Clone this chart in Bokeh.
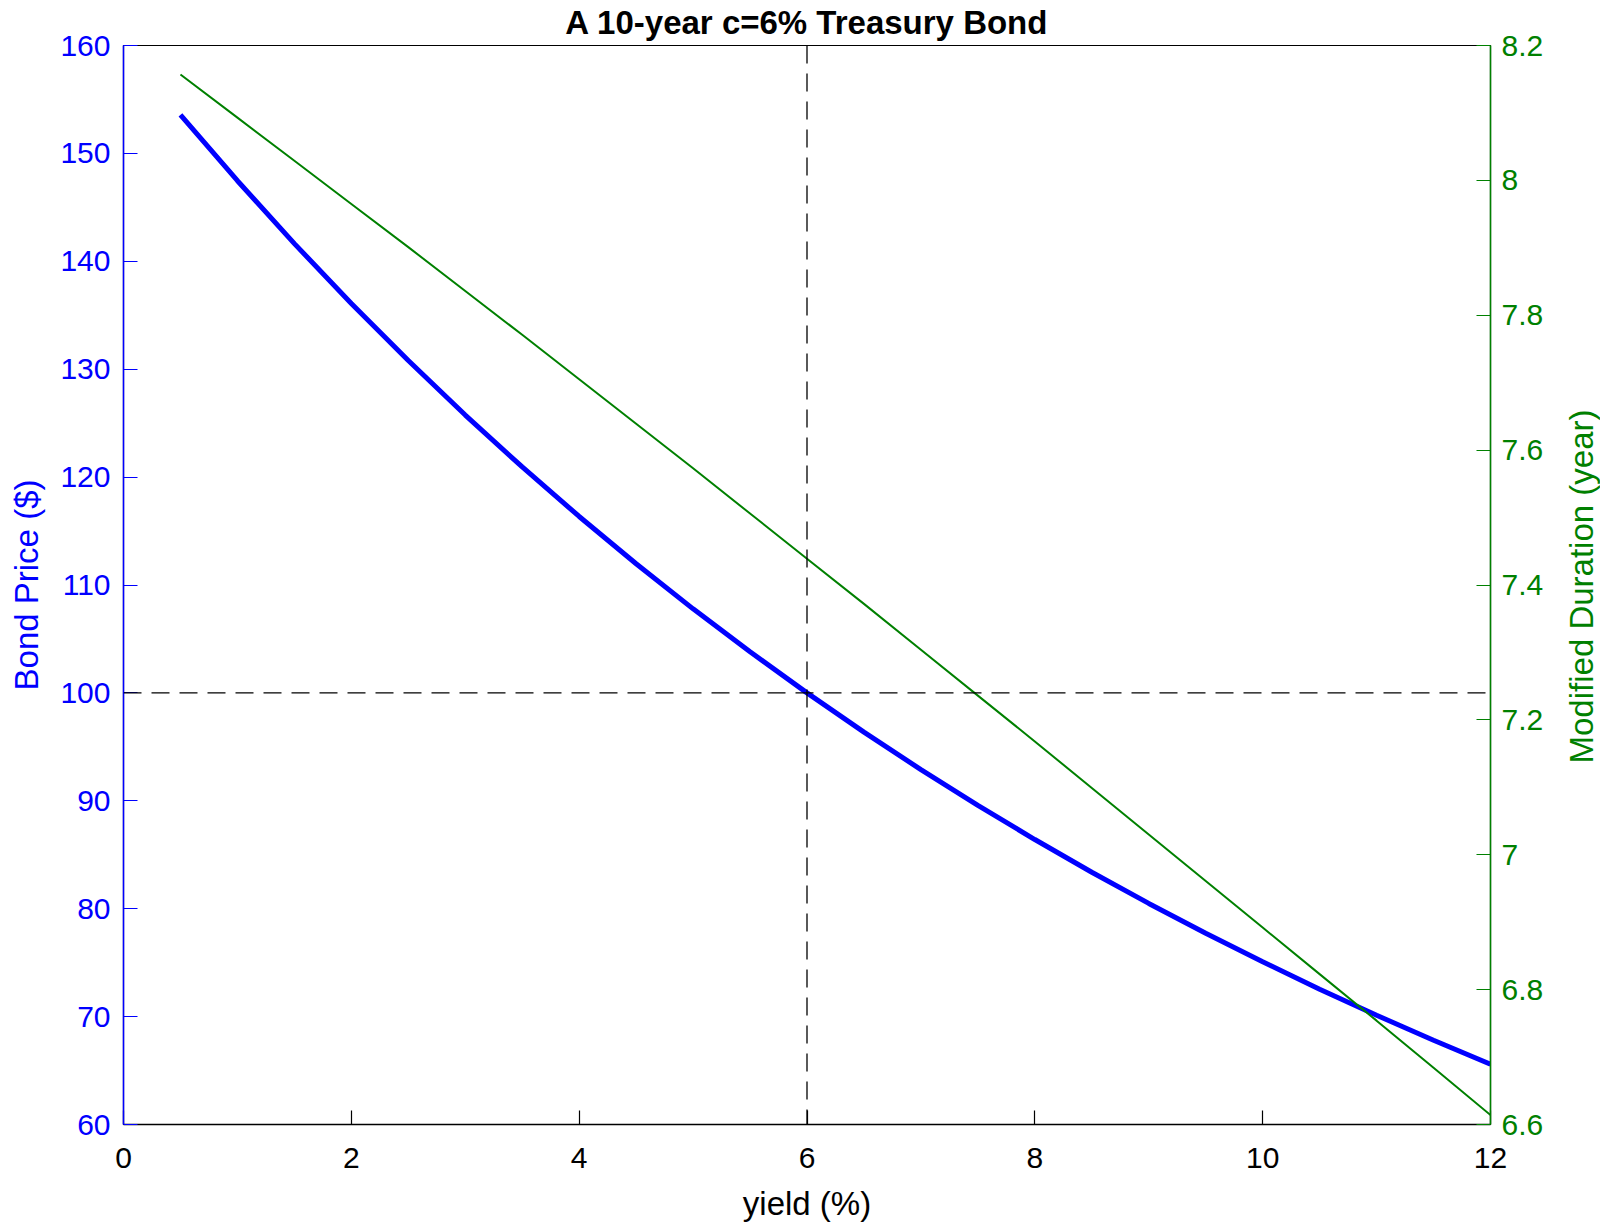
from bokeh.plotting import figure
from bokeh.layouts import row
from bokeh.models import Range1d, LinearAxis, FixedTicker, Span, Label
from bokeh.embed import file_html
from bokeh.resources import INLINE

# ---- data ----
yield_pct = [0.5, 1.0, 1.5, 2.0, 2.5, 3.0, 3.5, 4.0, 4.5, 5.0, 5.5, 6.0,
             6.5, 7.0, 7.5, 8.0, 8.5, 9.0, 9.5, 10.0, 10.5, 11.0, 11.5, 12.0]
bond_price = [153.58, 147.47, 141.64, 136.09, 130.80, 125.75, 120.94, 116.35,
              111.97, 107.79, 103.81, 100.00, 96.37, 92.89, 89.58, 86.41,
              83.38, 80.49, 77.72, 75.08, 72.54, 70.12, 67.81, 65.59]
mod_duration = [8.157, 8.093, 8.029, 7.965, 7.901, 7.836, 7.771, 7.705,
                7.639, 7.573, 7.506, 7.439, 7.372, 7.304, 7.236, 7.168,
                7.099, 7.030, 6.961, 6.892, 6.823, 6.754, 6.684, 6.614]
par_yield = 6
par_price = 100

x_ticks = [0, 2, 4, 6, 8, 10, 12]
price_ticks = [60, 70, 80, 90, 100, 110, 120, 130, 140, 150, 160]
dur_ticks = [6.6, 6.8, 7.0, 7.2, 7.4, 7.6, 7.8, 8.0, 8.2]
dur_tick_labels = ["6.6", "6.8", "7", "7.2", "7.4", "7.6", "7.8", "8", "8.2"]

title_text = "A 10-year c=6% Treasury Bond"
x_label = "yield (%)"
left_label = "Bond Price ($)"
right_label = "Modified Duration (year)"

BLUE = "#0000ff"
GREEN = "#008000"
FONT = "Liberation Sans"

W, H = 1550, 1224          # main figure
QW = 50                    # narrow strip holding the right-axis title
BL, BR, BT, BB = 123, 60, 45, 100
FH = H - BT - BB

p = figure(width=W, height=H, output_backend="svg", toolbar_location=None,
           x_range=Range1d(0, 12), y_range=Range1d(60, 160),
           min_border_left=BL, min_border_right=BR, min_border_top=BT,
           min_border_bottom=BB)
p.title.text = title_text
p.title.align = "center"
p.title.text_font = FONT
p.title.text_font_size = "33px"
p.title.text_font_style = "bold"
p.title.text_color = "black"
p.title.vertical_align = "top"
p.title.standoff = 6

p.grid.visible = False
p.outline_line_color = "black"
p.outline_line_width = 1.2
p.background_fill_color = "white"
p.border_fill_color = "white"

p.extra_y_ranges = {"dur": Range1d(6.6, 8.2)}

# lines
p.line(yield_pct, bond_price, line_color=BLUE, line_width=5)
p.line(yield_pct, mod_duration, line_color=GREEN, line_width=2, y_range_name="dur")

p.add_layout(Span(location=par_yield, dimension="height", line_color="black",
                  line_width=1.3, line_dash="18 10"))
p.add_layout(Span(location=par_price, dimension="width", line_color="black",
                  line_width=1.3, line_dash="18 10"))

def style_axis(ax, color, standoff, label_standoff):
    ax.axis_line_color = color
    ax.axis_line_width = 1.5
    ax.major_tick_line_color = color
    ax.major_tick_line_width = 1.2
    ax.major_tick_in = 14
    ax.major_tick_out = 0
    ax.minor_tick_line_color = None
    ax.major_label_text_color = color
    ax.major_label_text_font = FONT
    ax.major_label_text_font_size = "30px"
    ax.major_label_standoff = standoff
    ax.axis_label_text_color = color
    ax.axis_label_text_font = FONT
    ax.axis_label_text_font_size = "33px"
    ax.axis_label_text_font_style = "normal"
    ax.axis_label_standoff = label_standoff

xa = p.xaxis[0]
xa.ticker = FixedTicker(ticks=x_ticks)
xa.axis_label = x_label
style_axis(xa, "black", 23, 14)

ya = p.yaxis[0]
ya.ticker = FixedTicker(ticks=price_ticks)
ya.axis_label = left_label
style_axis(ya, BLUE, 13, 12)

ra = LinearAxis(y_range_name="dur")
ra.ticker = FixedTicker(ticks=dur_ticks)
ra.major_label_overrides = {t: s for t, s in zip(dur_ticks, dur_tick_labels)}
style_axis(ra, GREEN, 11, 16)
p.add_layout(ra, "right")

# narrow strip to the right: right-axis title reading bottom-to-top
q = figure(width=QW, height=H, output_backend="svg", toolbar_location=None,
           x_axis_type=None, y_axis_type=None,
           x_range=Range1d(0, 1), y_range=Range1d(0, 1),
           min_border_left=0, min_border_right=0, min_border_top=0,
           min_border_bottom=0)
q.outline_line_color = None
q.background_fill_color = "white"
q.border_fill_color = "white"
q.add_layout(Label(x=31, y=FH / 2 - 1.5, x_units="screen", y_units="screen",
                   text=right_label, angle=90, angle_units="deg",
                   text_align="center", text_baseline="middle",
                   text_color=GREEN, text_font=FONT, text_font_size="33px"))

layout = row(p, q, spacing=0)
open("out.html", "w").write(file_html(layout, INLINE))
